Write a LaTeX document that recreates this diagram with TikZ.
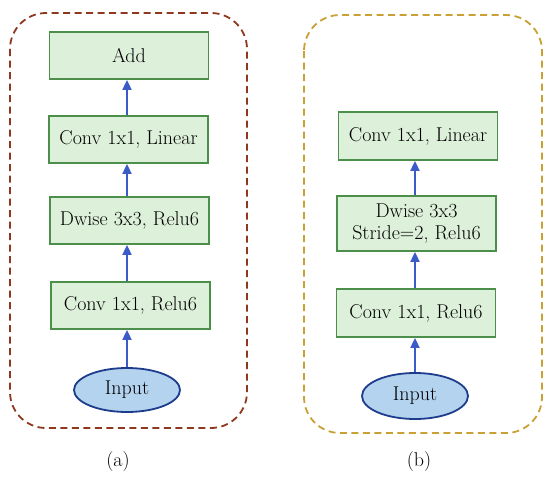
\documentclass[tikz,border=0pt]{standalone}
\usepackage{fontspec}
\usetikzlibrary{arrows.meta,shapes.geometric}
\definecolor{boxfill}{HTML}{DDF1DA}
\definecolor{boxline}{HTML}{4C8F4A}
\definecolor{ellfill}{HTML}{B3D3EF}
\definecolor{ellline}{HTML}{1E3C8C}
\definecolor{arrcol}{HTML}{3A5BC8}
\definecolor{redbox}{HTML}{8E3820}
\definecolor{goldbox}{HTML}{C9A033}
\tikzset{
  txt/.style={font=\fontsize{20}{23}\selectfont},
  blk/.style={txt,draw=boxline,fill=boxfill,line width=1.8pt,minimum width=159pt,minimum height=47pt,inner sep=0pt,align=center},
  inp/.style={txt,ellipse,draw=ellline,fill=ellfill,line width=1.8pt,minimum width=106pt,minimum height=44pt,inner sep=0pt},
  arr/.style={draw=arrcol,line width=1.8pt,-{Triangle[length=10pt,width=9pt]}},
  cont/.style={line width=1.8pt,dash pattern=on 7pt off 4.5pt,rounded corners=36pt}
}
\begin{document}
\begin{tikzpicture}[x=1pt,y=-1pt]
\useasboundingbox (0,0) rectangle (550,479);
% containers
\draw[cont,draw=redbox] (10,13) rectangle (247,428);
\draw[cont,draw=goldbox] (304,15) rectangle (542,433);
% left column
\node[blk] (aadd) at (129,55.5) {Add};
\node[blk] (alin) at (128.5,139.5) {Conv 1x1, Linear};
\node[blk] (adw) at (129.5,220.5) {Dwise 3x3, Relu6};
\node[blk] (arelu) at (130.5,305.5) {Conv 1x1, Relu6};
\node[inp] (ain) at (127,390) {Input};
\draw[arr] (ain.north) -- (ain.north |- arelu.south);
\draw[arr] (arelu.north -| ain.north) -- (ain.north |- adw.south);
\draw[arr] (adw.north -| ain.north) -- (ain.north |- alin.south);
\draw[arr] (alin.north -| ain.north) -- (ain.north |- aadd.south);
\node[txt] (la) at (118,462) {(a)};
% right column
\node[blk,minimum height=48pt] (blin) at (418,136) {Conv 1x1, Linear};
\node[blk,minimum height=55pt,font=\fontsize{20}{22}\selectfont] (bdw) at (416.5,223.5) {Dwise 3x3\\Stride=2, Relu6};
\node[blk,minimum height=48pt] (brelu) at (416,313) {Conv 1x1, Relu6};
\node[inp,minimum height=46pt] (bin) at (415,396) {Input};
\draw[arr] (bin.north) -- (bin.north |- brelu.south);
\draw[arr] (brelu.north -| bin.north) -- (bin.north |- bdw.south);
\draw[arr] (bdw.north -| bin.north) -- (bin.north |- blin.south);
\node[txt] (lb) at (419,462) {(b)};
\end{tikzpicture}
\end{document}
